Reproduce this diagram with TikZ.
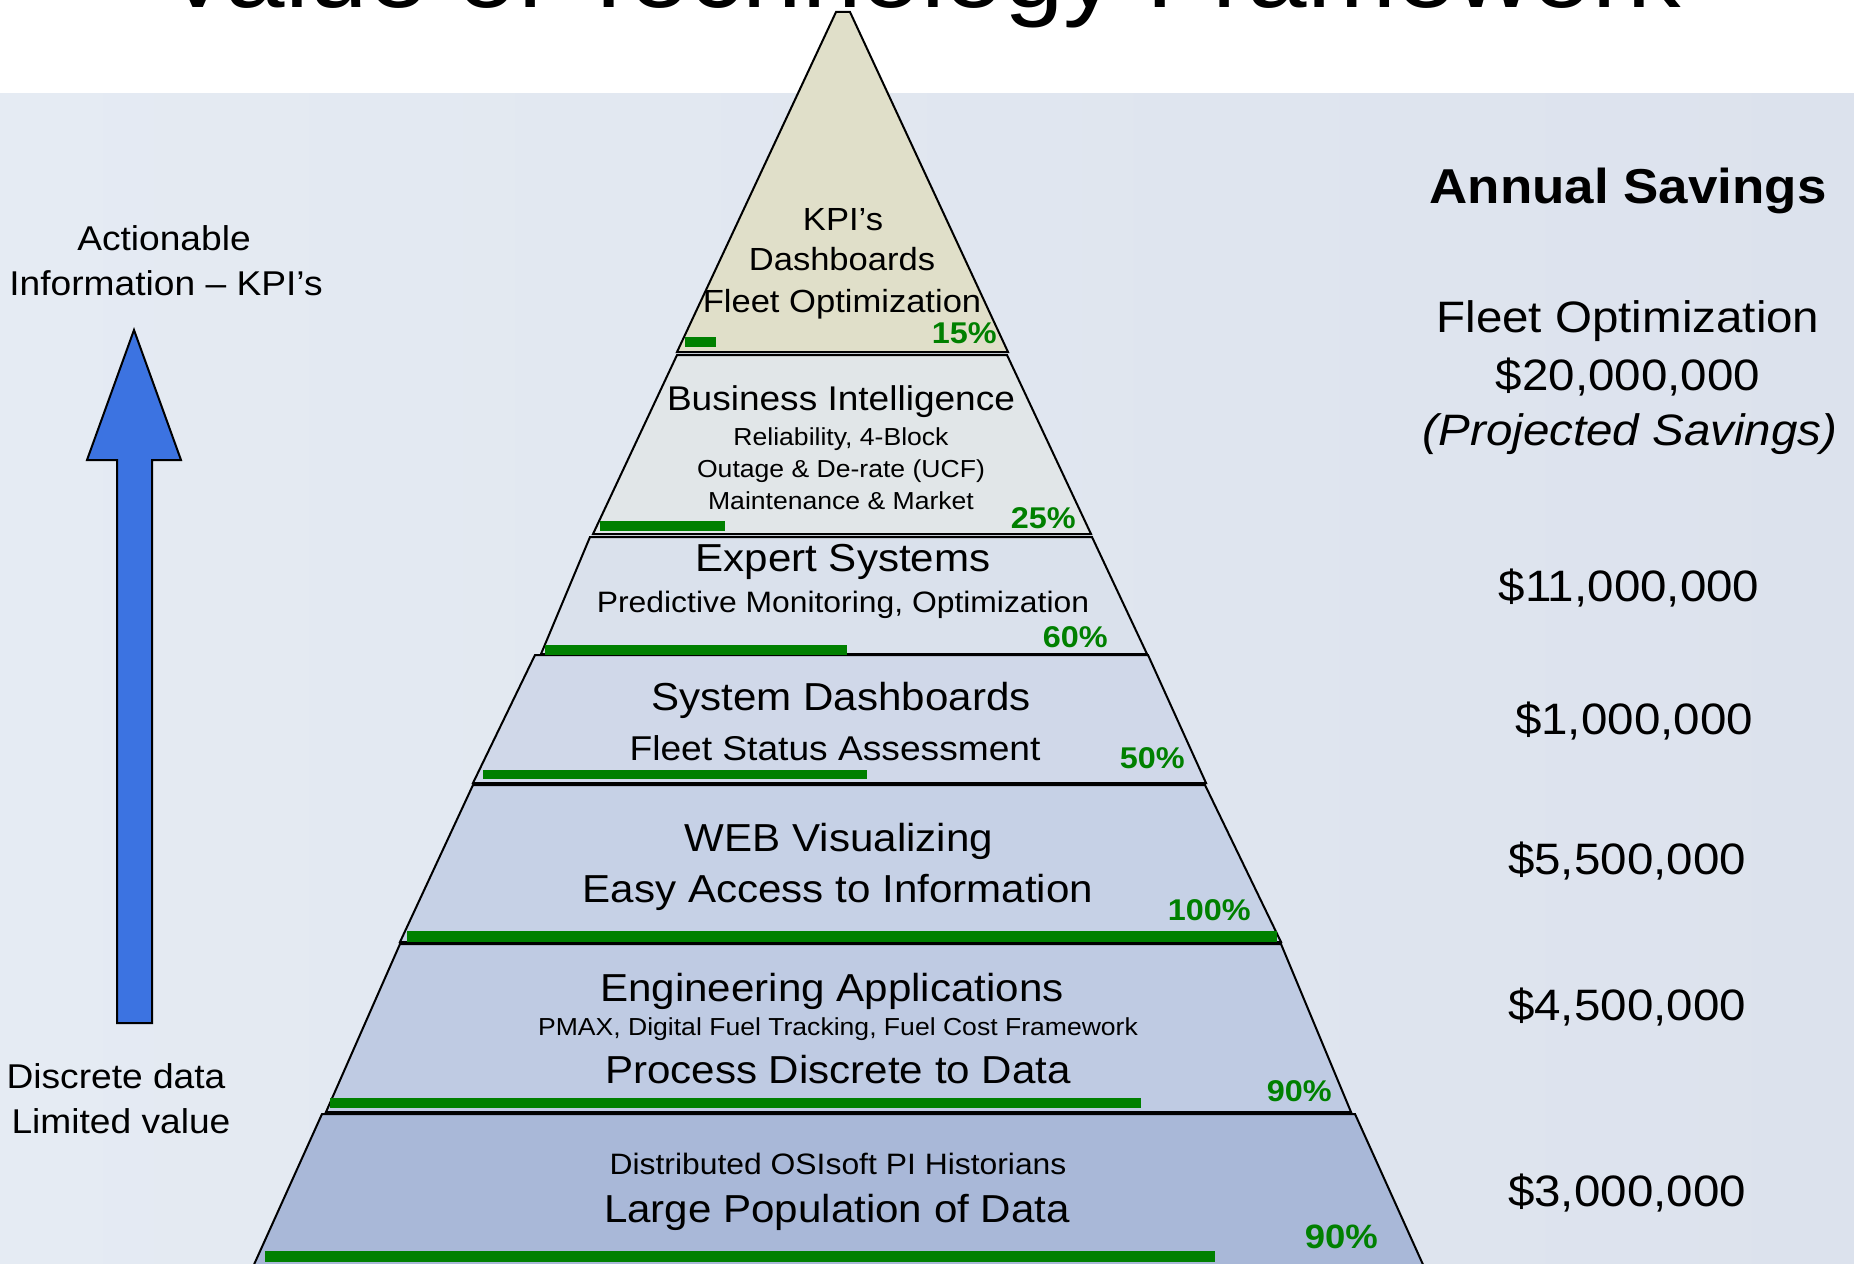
\documentclass[tikz,border=0pt]{standalone}
\usepackage{fontspec}
\setmainfont{Liberation Sans}[FakeStretch=1.08]
\definecolor{bgL}{HTML}{E5EBF3}
\definecolor{bgR}{HTML}{DCE2ED}
\definecolor{tA}{HTML}{E0DFC9}
\definecolor{tB}{HTML}{E1E6E8}
\definecolor{tC}{HTML}{DAE1EC}
\definecolor{tD}{HTML}{D0D8E9}
\definecolor{tE}{HTML}{C6D1E6}
\definecolor{tF}{HTML}{BFCBE3}
\definecolor{tG}{HTML}{A9B8D8}
\definecolor{upblue}{HTML}{3C73E1}
\definecolor{pgreen}{HTML}{008000}
\newcommand\myfs[1]{\fontsize{#1}{#1}\selectfont}
\begin{document}
\begin{tikzpicture}[x=1pt,y=-1pt,
  tier/.style={draw=black, line width=2pt, line join=miter},
  bar/.style={fill=pgreen},
  txt/.style={anchor=base, inner sep=0pt, text=black},
  big/.style={txt, font=\myfs{39}},
  mid/.style={txt, font=\myfs{29.5}},
  small/.style={txt, font=\myfs{24.6}},
  pct/.style={anchor=base east, inner sep=0pt, text=pgreen, font=\bfseries\myfs{30}},
  side/.style={txt, font=\myfs{34.4}},
  sav/.style={txt, font=\myfs{44}}]
\useasboundingbox (0,0) rectangle (1854,1263);
\clip (0,0) rectangle (1854,1263);
% background
\fill[white] (0,0) rectangle (1854,93);
\shade[left color=bgL, right color=bgR] (0,93) rectangle (1854,1263);
% title (cut at top, as in the reference)
\node[txt, font=\myfs{99}] (title) at (922,8) {Value of Technology Framework};
% pyramid tiers
\draw[tier, fill=tG] (322,1114) -- (1355,1114) -- (1439,1300) -- (238,1300) -- cycle;
\draw[tier, fill=tF] (400,944) -- (1281,944) -- (1351,1112) -- (326,1112) -- cycle;
\draw[tier, fill=tE] (473,785) -- (1205,785) -- (1281,942) -- (400,942) -- cycle;
\draw[tier, fill=tD] (535,655) -- (1148,655) -- (1206,783) -- (473,783) -- cycle;
\draw[tier, fill=tC] (590,537) -- (1092,537) -- (1147,654) -- (541,654) -- cycle;
\draw[tier, fill=tB] (677,355) -- (1007,355) -- (1091,534) -- (593,534) -- cycle;
\draw[tier, fill=tA] (836,12) -- (850,12) -- (1008,352) -- (677,352) -- cycle;
% green bars
\fill[bar] (685,337) rectangle (716,347);
\fill[bar] (600,521) rectangle (725,531);
\fill[bar] (545,645) rectangle (847,655);
\fill[bar] (483,770) rectangle (867,779);
\fill[bar] (407,931) rectangle (1277,942);
\fill[bar] (330,1098) rectangle (1141,1108);
\fill[bar] (265,1251) rectangle (1215,1262);
% tier texts
\node[txt, font=\myfs{32}] (k1) at (843,230) {KPI’s};
\node[txt, font=\myfs{32}] (k2) at (842,270) {Dashboards};
\node[txt, font=\myfs{32}] (k3) at (842,312) {Fleet Optimization};
\node[txt, font=\myfs{34.3}] (b1) at (841,410) {Business Intelligence};
\node[small] (b2) at (841,445) {Reliability, 4-Block};
\node[small] (b3) at (841,477) {Outage \& De-rate (UCF)};
\node[small] (b4) at (841,509) {Maintenance \& Market};
\node[big] (e1) at (843,571) {Expert Systems};
\node[mid] (e2) at (843,612) {Predictive Monitoring, Optimization};
\node[big] (s1) at (841,710) {System Dashboards};
\node[txt, font=\myfs{34.4}] (s2) at (835,760) {Fleet Status Assessment};
\node[big] (w1) at (839,851) {WEB Visualizing};
\node[big] (w2) at (838,902) {Easy Access to Information};
\node[big] (g1) at (832,1001) {Engineering Applications};
\node[small] (g2) at (838,1035) {PMAX, Digital Fuel Tracking, Fuel Cost Framework};
\node[big] (g3) at (838,1083) {Process Discrete to Data};
\node[mid] (d1) at (838,1174) {Distributed OSIsoft PI Historians};
\node[big] (d2) at (837,1222) {Large Population of Data};
% percentages
\node[pct] (p1) at (997,343) {15\%};
\node[pct] (p2) at (1076,528) {25\%};
\node[pct] (p3) at (1108,647) {60\%};
\node[pct] (p4) at (1185,768) {50\%};
\node[pct] (p5) at (1251,920) {100\%};
\node[pct] (p6) at (1332,1101) {90\%};
\node[pct, font=\bfseries\myfs{33.8}] (p7) at (1378,1248) {90\%};
% left side
\node[side] (a1) at (164,250) {Actionable};
\node[side] (a2) at (166,295) {Information – KPI’s};
\draw[fill=upblue, draw=black, line width=2pt, line join=miter] (134,330) -- (181,460) -- (152,460) -- (152,1023) -- (117,1023) -- (117,460) -- (87,460) -- cycle;
\node[side] (c1) at (116,1088) {Discrete data};
\node[side] (c2) at (121,1133) {Limited value};
% right column
\node[txt, font=\bfseries\myfs{49}] (r0) at (1628,203) {Annual Savings};
\node[sav] (r1) at (1628,332) {Fleet Optimization};
\node[sav] (r2) at (1628,390) {\$20,000,000};
\node[sav, font=\itshape\myfs{44}] (r3) at (1630,445) {(Projected Savings)};
\node[sav] (r4) at (1629,601) {\$11,000,000};
\node[sav] (r5) at (1634,734) {\$1,000,000};
\node[sav] (r6) at (1627,874) {\$5,500,000};
\node[sav] (r7) at (1627,1020) {\$4,500,000};
\node[sav] (r8) at (1627,1206) {\$3,000,000};
\end{tikzpicture}
\end{document}
